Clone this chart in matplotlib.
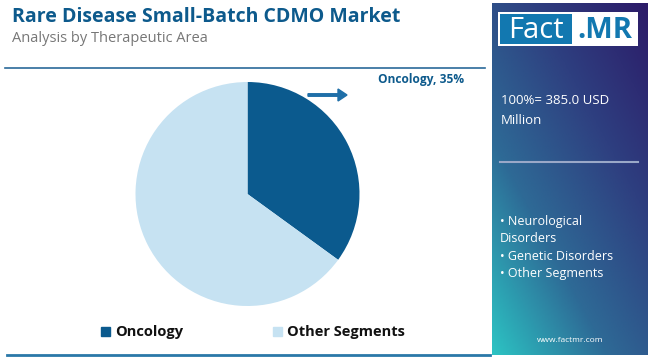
import numpy as np
import matplotlib.pyplot as plt
from matplotlib.patches import Rectangle, FancyArrow
from matplotlib.colors import LinearSegmentedColormap

categories = ["Oncology", "Other Segments"]
shares = [35, 65]
colors = ["#0b5a8e", "#c6e2f2"]
panel_lines = ["• Neurological", "Disorders", "• Genetic Disorders", "• Other Segments"]

W, H = 650, 357
fig = plt.figure(figsize=(6.5, 3.57), dpi=100)
bg = fig.add_axes([0, 0, 1, 1])
bg.set_xlim(0, W)
bg.set_ylim(H, 0)
bg.axis("off")

font = "Open Sans"

# header
bg.text(12, 17, "Rare Disease Small-Batch CDMO Market", fontsize=14, fontweight="bold",
        color="#0d5a8c", va="center", family=font)
bg.text(12, 38, "Analysis by Therapeutic Area", fontsize=10.5, color="#777777",
        va="center", family=font)
bg.plot([5, 485], [68, 68], color="#2a6a9a", lw=1.2)
bg.plot([7, 490], [355, 355], color="#2a78a8", lw=2)

# pie
pie_ax = fig.add_axes([135 / W, 1 - 306 / H, 225 / W, 224 / H])
pie_ax.pie(shares, colors=colors, startangle=90, counterclock=False,
           wedgeprops=dict(linewidth=0))
pie_ax.set_xlim(-1, 1)
pie_ax.set_ylim(-1, 1)
pie_ax.set_aspect("equal")

bg.text(378, 80, "Oncology, 35%", fontsize=8.6, fontweight="bold", color="#0d5a8c",
        va="center", family=font)
bg.add_patch(FancyArrow(308, 95, 30, 0, width=2.5, head_width=12, head_length=9,
                        color="#1f6fa8", length_includes_head=False))

# legend
lx = [101, 273]
for x, c, lab in zip(lx, colors, categories):
    bg.add_patch(Rectangle((x, 327), 9, 9, color=c))
    bg.text(x + 14, 332, lab, fontsize=10.5, fontweight="bold", color="#111111",
            va="center", family=font)

# right panel with gradient
px0, px1, py0, py1 = 492, 648, 3, 355
cmap = LinearSegmentedColormap.from_list("g", ["#2cc3c3", "#2e6a96", "#2e3f80", "#2c1b68"])
gx, gy = np.meshgrid(np.linspace(0, 1, 100), np.linspace(0, 1, 200))
grad = (gx * 0.45 + (1 - gy) * 0.55)
bg.imshow(grad, cmap=cmap, extent=[px0, px1, py1, py0], aspect="auto", zorder=1)

# logo
bg.add_patch(Rectangle((498, 12), 140, 34, facecolor="white", edgecolor="none", zorder=2))
bg.add_patch(Rectangle((500, 14), 72, 30, facecolor="#1278b0", edgecolor="none", zorder=3))
bg.text(536, 30, "Fact", fontsize=21, color="white", ha="center", va="center",
        family=font, zorder=4)
bg.text(605, 30, ".MR", fontsize=21, color="#1278b0", fontweight="bold", ha="center",
        va="center", family=font, zorder=4)

bg.text(501, 101, "100%= 385.0 USD", fontsize=9.5, color="white", va="center",
        family=font, zorder=4)
bg.text(501, 121, "Million", fontsize=9.5, color="white", va="center", family=font, zorder=4)
bg.plot([500, 638], [162, 162], color="#9aa8c8", lw=1.5, zorder=4)

for i, t in enumerate(panel_lines):
    bg.text(500, 221 + i * 17.5, t, fontsize=9, color="white", va="center",
            family=font, zorder=4)

bg.text(570, 340, "www.factmr.com", fontsize=6, color="white", ha="center",
        va="center", family=font, zorder=4)

bg.set_xlim(0, W)
bg.set_ylim(H, 0)
fig.savefig("out.png", dpi=100)
